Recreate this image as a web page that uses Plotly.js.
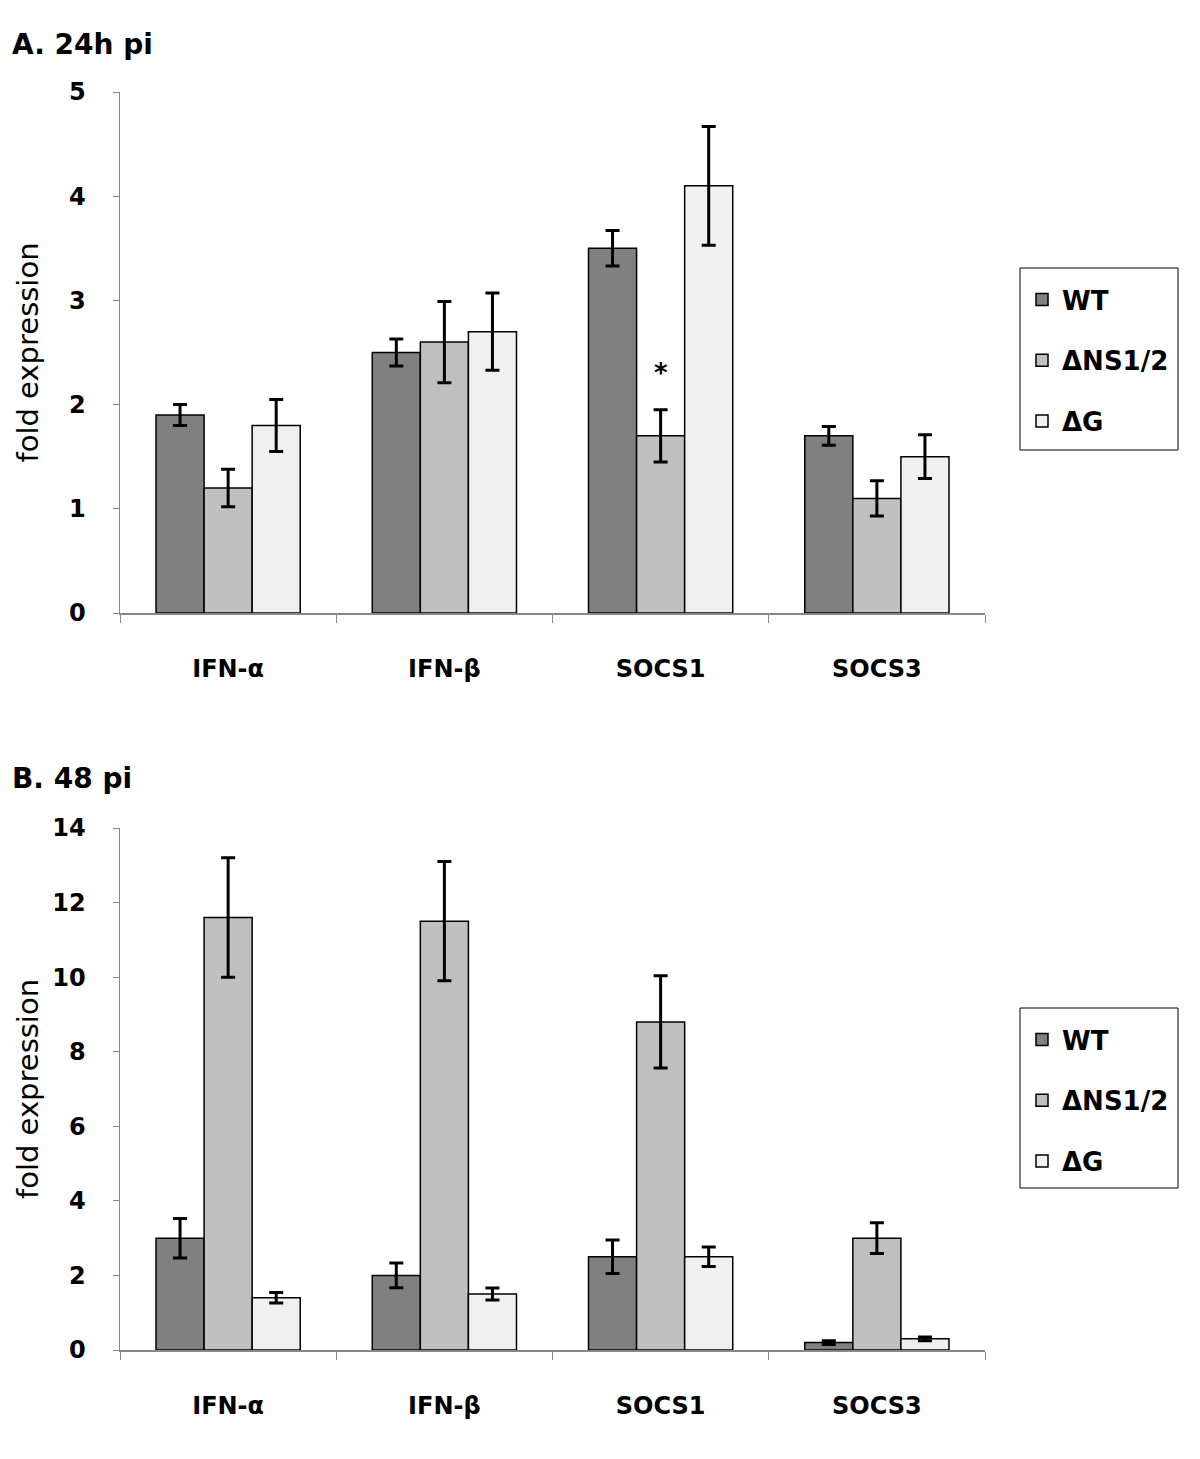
<!DOCTYPE html>
<html>
<head>
<meta charset="utf-8">
<script src="https://cdn.plot.ly/plotly-3.0.1.min.js"></script>
<style>html,body{margin:0;padding:0;background:#fff;}#chart{width:1200px;height:1459px;}</style>
</head>
<body>
<div id="chart"></div>
<script>
const categories = ['IFN-α', 'IFN-β', 'SOCS1', 'SOCS3'];
const seriesNames = ['WT', 'ΔNS1/2', 'ΔG'];
const seriesColors = ['#808080', '#c0c0c0', '#f0f0f0'];

// Panel A: 24h pi
const a_WT = [1.9, 2.5, 3.5, 1.7];
const a_WT_err = [0.10, 0.13, 0.17, 0.09];
const a_NS = [1.2, 2.6, 1.7, 1.1];
const a_NS_err = [0.18, 0.39, 0.25, 0.17];
const a_G = [1.8, 2.7, 4.1, 1.5];
const a_G_err = [0.25, 0.37, 0.57, 0.21];

// Panel B: 48 pi
const b_WT = [3.0, 2.0, 2.5, 0.2];
const b_WT_err = [0.53, 0.33, 0.45, 0.05];
const b_NS = [11.6, 11.5, 8.8, 3.0];
const b_NS_err = [1.6, 1.6, 1.24, 0.41];
const b_G = [1.4, 1.5, 2.5, 0.3];
const b_G_err = [0.14, 0.16, 0.26, 0.05];

const FONT = 'DejaVu Sans, Verdana, sans-serif';

function mk(vals, errs, i, xa, ya, leg) {
  return {
    type: 'bar', x: categories, y: vals, name: seriesNames[i],
    xaxis: xa, yaxis: ya, legend: leg, legendgroup: leg + i,
    marker: {color: seriesColors[i], line: {color: '#000', width: 1.5}},
    error_y: {type: 'data', array: errs, visible: true, color: '#000', thickness: 3, width: 7},
    hoverinfo: 'skip'
  };
}

const data = [
  mk(a_WT, a_WT_err, 0, 'x', 'y', 'legend'),
  mk(a_NS, a_NS_err, 1, 'x', 'y', 'legend'),
  mk(a_G, a_G_err, 2, 'x', 'y', 'legend'),
  mk(b_WT, b_WT_err, 0, 'x2', 'y2', 'legend2'),
  mk(b_NS, b_NS_err, 1, 'x2', 'y2', 'legend2'),
  mk(b_G, b_G_err, 2, 'x2', 'y2', 'legend2')
];

const xAx = (anchor) => ({
  domain: [120/1200, 985/1200], anchor: anchor, type: 'category',
  showline: true, linecolor: '#888', linewidth: 1.5,
  ticks: 'outside', tickson: 'boundaries', ticklen: 8, tickcolor: '#888', tickwidth: 1,
  tickfont: {family: FONT, size: 24, color: '#000', weight: 'bold'},
  ticklabelstandoff: 34, showgrid: false, zeroline: false, automargin: false, fixedrange: true
});
const yAx = (anchor, dom, range, dtick, standoff) => ({
  domain: dom, anchor: anchor, range: range, dtick: dtick,
  showline: true, linecolor: '#888', linewidth: 1.5,
  ticks: 'outside', ticklen: 6, tickcolor: '#888', tickwidth: 1,
  tickfont: {family: FONT, size: 24, color: '#000', weight: 'bold'},
  ticklabelstandoff: 22, showgrid: false, zeroline: false, automargin: false, fixedrange: true,
  title: {text: 'fold expression', font: {family: FONT, size: 29, color: '#000'}, standoff: standoff}
});

const legendBase = (ytop) => ({
  x: 1022/1200, xanchor: 'left', y: ytop, yanchor: 'top',
  borderwidth: 0, bgcolor: 'rgba(0,0,0,0)',
  font: {family: FONT, size: 26, color: '#000', weight: 'bold'},
  tracegroupgap: 24, traceorder: 'grouped', itemclick: false, itemdoubleclick: false
});

const layout = {
  width: 1200, height: 1459,
  margin: {l: 0, r: 0, t: 0, b: 0},
  paper_bgcolor: '#fff', plot_bgcolor: '#fff',
  barmode: 'group', bargap: 0.333, bargroupgap: 0,
  showlegend: true,
  xaxis: xAx('y'),
  yaxis: yAx('x', [1 - 613/1459, 1 - 92/1459], [0, 5], 1, 22),
  xaxis2: xAx('y2'),
  yaxis2: yAx('x2', [1 - 1350/1459, 1 - 828/1459], [0, 14], 2, 5),
  legend: legendBase(1 - 276/1459),
  legend2: legendBase(1 - 1016/1459),
  shapes: [
    {type: 'rect', xref: 'paper', yref: 'paper', x0: 1020/1200, x1: 1178/1200, y0: 1 - 450/1459, y1: 1 - 268/1459,
     line: {color: '#000', width: 1}, fillcolor: 'rgba(0,0,0,0)', layer: 'below'},
    {type: 'rect', xref: 'paper', yref: 'paper', x0: 1020/1200, x1: 1178/1200, y0: 1 - 1188/1459, y1: 1 - 1008/1459,
     line: {color: '#000', width: 1}, fillcolor: 'rgba(0,0,0,0)', layer: 'below'}
  ],
  annotations: [
    {text: 'A. 24h pi', xref: 'paper', yref: 'paper', x: 10/1200, y: 1 - 45/1459, xanchor: 'left', yanchor: 'middle',
     showarrow: false, font: {family: FONT, size: 28, color: '#000', weight: 'bold'}},
    {text: 'B. 48 pi', xref: 'paper', yref: 'paper', x: 10/1200, y: 1 - 778/1459, xanchor: 'left', yanchor: 'middle',
     showarrow: false, font: {family: FONT, size: 28, color: '#000', weight: 'bold'}},
    {text: '*', xref: 'x', yref: 'y', x: 'SOCS1', y: 2.3, showarrow: false, yanchor: 'middle',
     font: {family: FONT, size: 26, color: '#000', weight: 'bold'}}
  ]
};

Plotly.newPlot('chart', data, layout, {staticPlot: true, displayModeBar: false});
</script>
</body>
</html>
